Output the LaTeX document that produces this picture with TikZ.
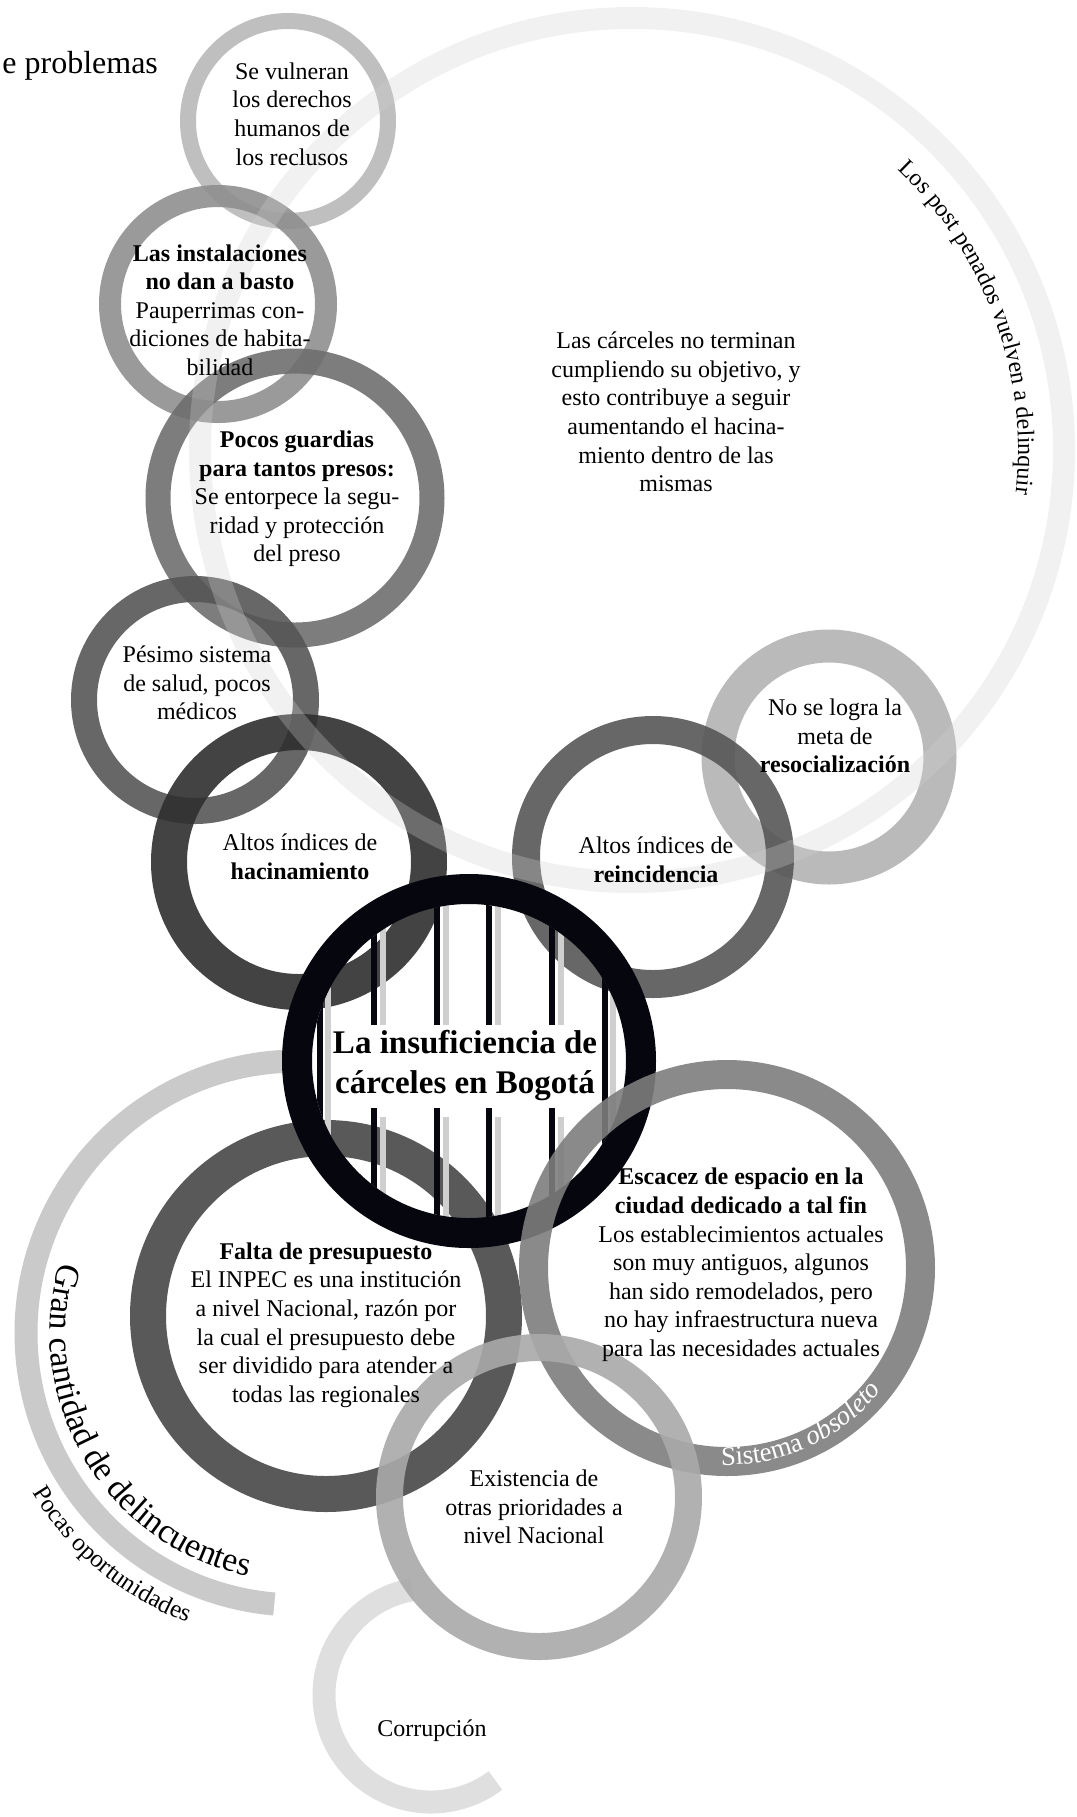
\documentclass[tikz,border=0pt]{standalone}
\usepackage{fontspec}
\setmainfont{Liberation Serif}
\usetikzlibrary{decorations.text}
\definecolor{ringA}{HTML}{B8B8B8}
\definecolor{ringB}{HTML}{8F8F8F}
\definecolor{ringC}{HTML}{6F6F6F}
\definecolor{ringD}{HTML}{565656}
\definecolor{ringE}{HTML}{2F2F2F}
\definecolor{ringF}{HTML}{05060E}
\definecolor{ringG}{HTML}{575757}
\definecolor{ringH}{HTML}{B2B2B2}
\definecolor{ringI}{HTML}{474747}
\definecolor{ringJ}{HTML}{7D7D7D}
\definecolor{ringK}{HTML}{A9A9A9}
\definecolor{ringL}{HTML}{DBDBDB}
\definecolor{ringM}{HTML}{CFCFCF}
\definecolor{ringN}{HTML}{C4C4C4}
\definecolor{barlight}{HTML}{CFCFCF}

\begin{document}
\begin{tikzpicture}[x=0.5pt, y=0.5pt,
  ring/.style 2 args={draw=#1, line width=#2, draw opacity=0.9},
  txt/.style={align=center, inner sep=0pt, font=\fontsize{12}{14.3}\selectfont},
  bar/.style={draw=ringF, line width=3pt},
  barback/.style={draw=barlight, line width=2.6pt}]
\useasboundingbox (0,0) rectangle (1077,-1817);

% centres of the rings
\coordinate (cA) at (288,-121);
\coordinate (cB) at (218,-304);
\coordinate (cC) at (295,-498);
\coordinate (cD) at (195,-700);
\coordinate (cE) at (299,-862);
\coordinate (cF) at (469,-1061);
\coordinate (cG) at (653,-857);
\coordinate (cH) at (829,-757);
\coordinate (cI) at (326,-1316);
\coordinate (cJ) at (727,-1268);
\coordinate (cK) at (539,-1497);
\coordinate (cL) at (431,-1695);
\coordinate (cM) at (632,-450);
\coordinate (cN) at (298,-1333);

% open arcs
\draw[ring={ringN}{11.5pt}] ([shift={(92:272)}]cN) arc[start angle=92, end angle=265, radius=272];
\draw[ring={ringL}{11.5pt}] ([shift={(100:107)}]cL) arc[start angle=100, end angle=307, radius=107];

% rings
\draw[ring={ringA}{8pt}] (cA) circle[radius=100];
\draw[ring={ringB}{11pt}] (cB) circle[radius=108];
\draw[ring={ringC}{12.5pt}] (cC) circle[radius=137];
\draw[ring={ringD}{13pt}] (cD) circle[radius=111];
\draw[ring={ringE}{18pt}] (cE) circle[radius=130];
\draw[ring={ringH}{16.5pt}] (cH) circle[radius=111];
\draw[ring={ringG}{14pt}] (cG) circle[radius=127];
\draw[ring={ringI}{18pt}] (cI) circle[radius=178];

% bars of the cell
\begin{scope}
\clip (cF) circle[radius=157];
\foreach \bx in {320,605} {
  \draw[barback] (\bx+8,-870) -- (\bx+8,-1250);
  \draw[bar] (\bx,-870) -- (\bx,-1250);
}
\foreach \bx in {374,437,489,552} {
  \draw[barback] (\bx+9,-878) -- (\bx+9,-1025);
  \draw[barback] (\bx+9,-1117) -- (\bx+9,-1250);
  \draw[bar] (\bx,-870) -- (\bx,-1025);
  \draw[bar] (\bx,-1108) -- (\bx,-1250);
}
\end{scope}
\draw[ring={ringF}{15pt}, draw opacity=1] (cF) circle[radius=172];

\draw[ring={ringJ}{14.5pt}] (cJ) circle[radius=193.5];
\draw[ring={ringK}{13.5pt}] (cK) circle[radius=149.5];
\draw[draw=ringM, line width=11pt, draw opacity=0.3] (cM) circle[radius=432];

% texts along the arcs
\path[decorate, decoration={text along path, text align=center,
  text={|\fontsize{12}{12}\selectfont|Los post penados vuelven a delinquir}}]
  ([shift={(60:386)}]cM) arc[start angle=60, end angle=-20, radius=386];
\path[decorate, decoration={text along path, text align=center,
  text={|\fontsize{17}{17}\selectfont|Gran cantidad de delincuentes}}]
  ([shift={(150:248)}]cN) arc[start angle=150, end angle=272, radius=248];
\path[decorate, decoration={text along path, text align=center,
  text={|\fontsize{12.5}{12.5}\selectfont|Pocas oportunidades}}]
  ([shift={(200:310)}]cN) arc[start angle=200, end angle=260, radius=310];
\path[decorate, decoration={text along path, text align=center, text color=white,
  text={|\fontsize{13.5}{13.5}\selectfont|Sistema |+\itshape|obsoleto}}]
  ([shift={(260:197)}]cJ) arc[start angle=260, end angle=330, radius=197];

% texts in the rings
\node[anchor=base west, inner sep=0pt, font=\fontsize{16}{16}\selectfont] (problemas) at (2,-73) {e problemas};
\node[txt] (vulneran) at (292,-114) {Se vulneran\\los derechos\\humanos de\\los reclusos};
\node[txt] (instalaciones) at (220,-310) {\textbf{Las instalaciones}\\\textbf{no dan a basto}\\Pauperrimas con-\\diciones de habita-\\bilidad};
\node[txt] (guardias) at (297,-499) {\textbf{Pocos guardias}\\\textbf{para tantos presos:}\\Se entorpece la segu-\\ridad y protección\\del preso};
\node[txt] (salud) at (197,-683) {Pésimo sistema\\de salud, pocos\\médicos};
\node[txt] (hacinamiento) at (300,-857) {Altos índices de\\\textbf{hacinamiento}};
\node[txt] (objetivo) at (676,-412) {Las cárceles no terminan\\cumpliendo su objetivo, y\\esto contribuye a seguir\\aumentando el hacina-\\miento dentro de las\\mismas};
\node[txt] (resocializacion) at (835,-736) {No se logra la\\meta de\\\textbf{resocialización}};
\node[txt] (reincidencia) at (656,-860) {Altos índices de\\\textbf{reincidencia}};
\node[txt, font=\fontsize{16.5}{20}\selectfont\bfseries] (titulo) at (465,-1066) {La insuficiencia de\\cárceles en Bogotá};
\node[txt] (presupuesto) at (326,-1325) {\textbf{Falta de presupuesto}\\El INPEC es una institución\\a nivel Nacional, razón por\\la cual el presupuesto debe\\ser dividido para atender a\\todas las regionales};
\node[txt] (espacio) at (741,-1265) {\textbf{Escacez de espacio en la}\\\textbf{ciudad dedicado a tal fin}\\Los establecimientos actuales\\son muy antiguos, algunos\\han sido remodelados, pero\\no hay infraestructura nueva\\para las necesidades actuales};
\node[txt] (prioridades) at (534,-1507) {Existencia de\\otras prioridades a\\nivel Nacional};
\node[txt] (corrupcion) at (432,-1731) {Corrupción};
\end{tikzpicture}
\end{document}
